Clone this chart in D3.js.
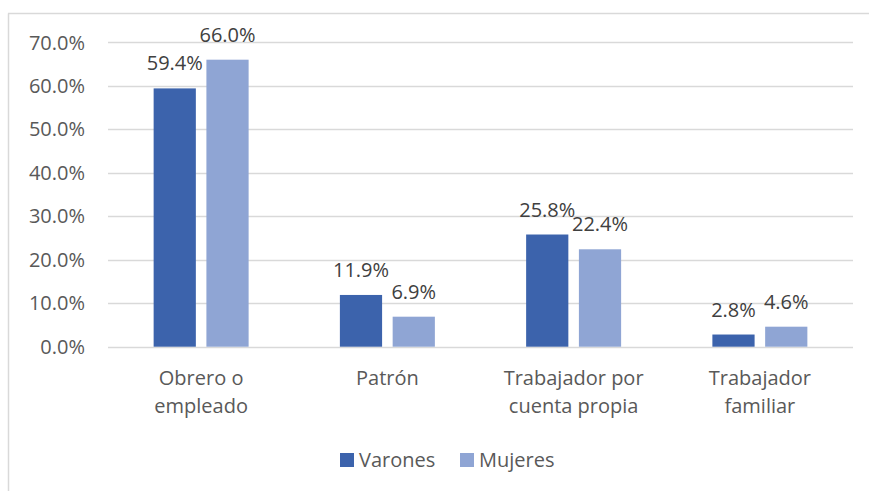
<!DOCTYPE html>
<html>
<head>
<meta charset="utf-8">
<script src="https://cdn.jsdelivr.net/npm/d3@7"></script>
<style>
  body { margin: 0; background: #fff; }
  text { font-family: "Open Sans", "Noto Sans", sans-serif; fill: #595959; }
</style>
</head>
<body>
<script>
"use strict";
(function(){
  // data
  const categories = [["Obrero o", "empleado"], ["Patrón"], ["Trabajador por", "cuenta propia"], ["Trabajador", "familiar"]]
  const series = ["Varones", "Mujeres"]
  const varones = [0.594, 0.119, 0.258, 0.028]
  const mujeres = [0.660, 0.069, 0.224, 0.046]
  const yTicks = [0, 0.1, 0.2, 0.3, 0.4, 0.5, 0.6, 0.7]
  const colors = ["#3c63ac", "#8fa5d4"]

  let m = { width: 869, height: 491 }
  const fs = 20

  const svg = d3.select("body").append("svg")
      .attr("width", m.width)
      .attr("height", m.height)

  // chart frame (left + top edges visible)
  svg.append("line").attr("x1", 8.5).attr("x2", 8.5).attr("y1", 13.5).attr("y2", m.height)
      .attr("stroke", "#d9d9d9").attr("stroke-width", 1.5)
  svg.append("line").attr("x1", 8).attr("x2", m.width).attr("y1", 13.5).attr("y2", 13.5)
      .attr("stroke", "#d9d9d9").attr("stroke-width", 1.5)

  const rows = categories.map((c, i) => ({ key: i, label: c, values: [varones[i], mujeres[i]] }))

  let x0 = d3.scaleBand()
      .domain(rows.map(d => d.key))
      .range([108, 853])
      .paddingInner(0.49)
      .paddingOuter(0.245)
  let x1 = d3.scaleBand()
      .domain(series)
      .range([0, x0.bandwidth()])
      .paddingInner(0.2)
  let yScale = d3.scaleLinear()
      .domain([0, 0.7])
      .range([346.7, 42.3])

  // gridlines
  svg.append("g").selectAll("line")
    .data(yTicks)
    .enter().append("line")
      .attr("x1", 108).attr("x2", 853)
      .attr("y1", d => Math.round(yScale(d)) + 0.5)
      .attr("y2", d => Math.round(yScale(d)) + 0.5)
      .attr("stroke", "#d9d9d9")
      .attr("stroke-width", 1.5)

  // y tick labels
  svg.append("g").selectAll("text")
    .data(yTicks)
    .enter().append("text")
      .attr("x", 85)
      .attr("y", d => yScale(d))
      .attr("dy", "0.36em")
      .attr("text-anchor", "end")
      .attr("font-size", fs)
      .text(d => d3.format(".1%")(d))

  // bars
  const groups = svg.append("g").selectAll("g")
    .data(rows)
    .enter().append("g")
      .attr("transform", d => "translate(" + x0(d.key) + ",0)")

  groups.selectAll("rect")
    .data(d => d.values.map((v, j) => ({ s: series[j], v: v, j: j })))
    .enter().append("rect")
      .attr("x", d => x1(d.s))
      .attr("y", d => yScale(d.v))
      .attr("width", x1.bandwidth())
      .attr("height", d => yScale(0) - yScale(d.v))
      .attr("fill", d => colors[d.j])

  groups.selectAll("text.val")
    .data(d => d.values.map((v, j) => ({ s: series[j], v: v, j: j })))
    .enter().append("text")
      .attr("class", "val")
      .attr("x", d => x1(d.s) + x1.bandwidth() / 2)
      .attr("y", d => yScale(d.v) - 18)
      .attr("text-anchor", "middle")
      .attr("font-size", fs)
      .style("fill", "#404040")
      .text(d => d3.format(".1%")(d.v))

  // category labels
  groups.each(function(d){
    const t = d3.select(this).append("text")
      .attr("text-anchor", "middle")
      .attr("font-size", fs)
    d.label.forEach((line, k) => {
      t.append("tspan")
        .attr("x", x0.bandwidth() / 2)
        .attr("y", 385 + k * 28)
        .text(line)
    })
  })

  // legend
  const legendX = [340, 460]
  const legend = svg.append("g").selectAll("g")
    .data(series)
    .enter().append("g")
      .attr("transform", (d, i) => "translate(" + legendX[i] + ",453)")
  legend.append("rect")
      .attr("width", 14).attr("height", 14)
      .attr("fill", (d, i) => colors[i])
  legend.append("text")
      .attr("x", 19)
      .attr("y", 7)
      .attr("dy", "0.36em")
      .attr("font-size", fs)
      .text(d => d)
})();
</script>
</body>
</html>
